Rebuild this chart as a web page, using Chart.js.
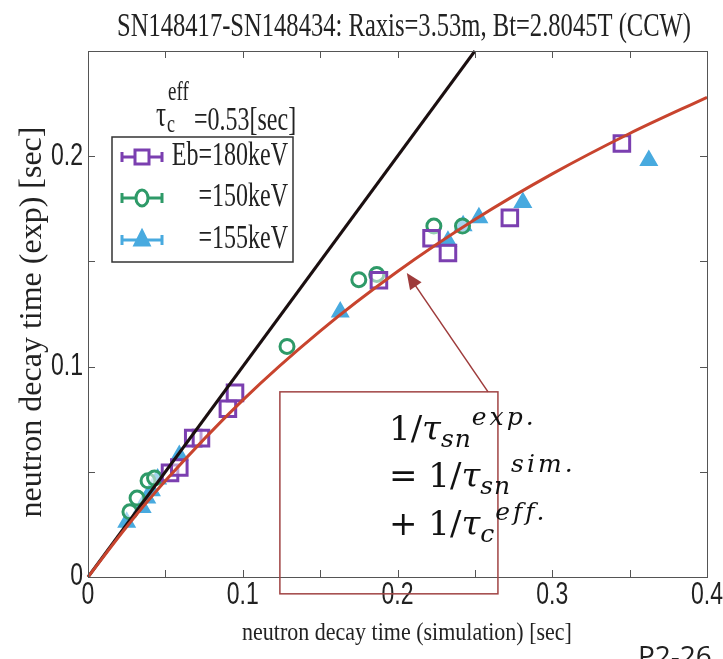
<!DOCTYPE html>
<html>
<head>
<meta charset="utf-8">
<script src="https://cdn.jsdelivr.net/npm/chart.js@4/dist/chart.umd.min.js"></script>
<style>
  html, body { margin: 0; padding: 0; background: #fff; }
</style>
</head>
<body>
<canvas id="grafico" width="723" height="659"></canvas>
<script>
// Valores (segundos)
const roxoX = [0.053, 0.059, 0.068, 0.073, 0.0904, 0.095, 0.188, 0.222, 0.2326, 0.2726, 0.345];
const roxoY = [0.0495, 0.052, 0.066, 0.066, 0.080, 0.0875, 0.141, 0.161, 0.154, 0.1707, 0.206];

const verdeX = [0.0271, 0.0317, 0.0388, 0.043, 0.1286, 0.175, 0.1866, 0.2235, 0.242];
const verdeY = [0.031, 0.0375, 0.0457, 0.047, 0.1096, 0.1413, 0.1438, 0.1668, 0.1668];

const azulX = [0.025, 0.035, 0.038, 0.041, 0.045, 0.059, 0.163, 0.2326, 0.2424, 0.2526, 0.281, 0.3624];
const azulY = [0.026, 0.033, 0.0375, 0.041, 0.0466, 0.0577, 0.126, 0.1596, 0.167, 0.1707, 0.178, 0.198];

// curva vermelha (tau_c eff = 0.53 s) e reta y = x
const curvaX = [0, 0.025, 0.05, 0.1, 0.15, 0.2, 0.25, 0.3, 0.35, 0.4];
const curvaY = [0, 0.0239, 0.0457, 0.0841, 0.1169, 0.1452, 0.1699, 0.1916, 0.2108, 0.228];
const retaX = [0, 0.25];
const retaY = [0, 0.25];

// marcas dos eixos
const marcasX = [0, 0.05, 0.1, 0.15, 0.2, 0.25, 0.3, 0.35, 0.4];
const rotulosX = ['0', '', '0.1', '', '0.2', '', '0.3', '', '0.4'];
const marcasY = [0, 0.05, 0.1, 0.15, 0.2, 0.25];
const rotulosY = ['0', '', '0.1', '', '0.2', ''];

const nomesSeries = ['Eb=180keV', '=150keV', '=155keV'];
const titulo = 'SN148417-SN148434: Raxis=3.53m, Bt=2.8045T (CCW)';

const ROXO = '#7b3fb0';
const VERDE = '#2e9a68';
const AZUL = '#48aadf';
const VERMELHO = '#c8442e';
const SERIF = '"Liberation Serif", "Times New Roman", serif';
const SANS = '"Liberation Sans", Arial, sans-serif';

function pares(xs, ys) {
  return xs.map((x, i) => ({ x, y: ys[i] }));
}

// Escreve texto com escala (o original está esticado na vertical)
function texto(ctx, s, x, y, o) {
  ctx.save();
  ctx.translate(x, y);
  if (o.rot) ctx.rotate(o.rot);
  ctx.scale(o.sx || 1, o.sy || 1);
  ctx.font = o.font;
  ctx.fillStyle = o.cor || '#222';
  ctx.textAlign = o.align || 'left';
  ctx.textBaseline = o.base || 'alphabetic';
  if (o.ls) ctx.letterSpacing = o.ls;
  if (o.max) ctx.fillText(s, 0, 0, o.max);
  else ctx.fillText(s, 0, 0);
  ctx.restore();
}

// Escreve uma sequência de pedaços (sub/sobrescritos) e avança em x
function trechos(ctx, lista, x, y) {
  lista.forEach(t => {
    texto(ctx, t.s, x, y + (t.dy || 0), { font: t.font, cor: '#111', ls: t.ls });
    ctx.save();
    ctx.font = t.font;
    if (t.ls) ctx.letterSpacing = t.ls;
    x += ctx.measureText(t.s).width;
    ctx.restore();
  });
}

function marcador(ctx, tipo, cor, x, y) {
  ctx.save();
  ctx.strokeStyle = cor;
  ctx.fillStyle = cor;
  ctx.lineWidth = 3;
  // barra de erro horizontal com pontas
  ctx.beginPath();
  ctx.moveTo(x - 20, y); ctx.lineTo(x + 20, y);
  ctx.moveTo(x - 20, y - 5); ctx.lineTo(x - 20, y + 5);
  ctx.moveTo(x + 20, y - 5); ctx.lineTo(x + 20, y + 5);
  ctx.stroke();
  ctx.beginPath();
  if (tipo === 'rect') {
    ctx.fillStyle = '#fff';
    ctx.rect(x - 7, y - 7, 14, 14);
    ctx.fill(); ctx.stroke();
  } else if (tipo === 'circle') {
    ctx.fillStyle = '#fff';
    ctx.ellipse(x, y, 6, 8, 0, 0, Math.PI * 2);
    ctx.fill(); ctx.stroke();
  } else {
    ctx.moveTo(x, y - 9); ctx.lineTo(x + 7, y + 5); ctx.lineTo(x - 7, y + 5); ctx.closePath();
    ctx.fill(); ctx.stroke();
  }
  ctx.restore();
}

const decoracao = {
  id: 'decoracao',
  afterDraw(chart) {
    const ctx = chart.ctx;
    const sx = chart.scales.x;
    const sy = chart.scales.y;
    const a = chart.chartArea;

    // moldura e marcas internas
    ctx.save();
    ctx.strokeStyle = '#555';
    ctx.lineWidth = 1;
    ctx.strokeRect(a.left + 0.5, a.top + 0.5, a.right - a.left, a.bottom - a.top);
    ctx.beginPath();
    marcasX.forEach(v => {
      const px = Math.round(sx.getPixelForValue(v)) + 0.5;
      ctx.moveTo(px, a.bottom); ctx.lineTo(px, a.bottom - 7);
      ctx.moveTo(px, a.top); ctx.lineTo(px, a.top + 7);
    });
    marcasY.forEach(v => {
      const py = Math.round(sy.getPixelForValue(v)) + 0.5;
      ctx.moveTo(a.left, py); ctx.lineTo(a.left + 7, py);
      ctx.moveTo(a.right, py); ctx.lineTo(a.right - 7, py);
    });
    ctx.stroke();
    ctx.restore();

    // rótulos das marcas
    marcasX.forEach((v, i) => {
      if (!rotulosX[i]) return;
      texto(ctx, rotulosX[i], sx.getPixelForValue(v), a.bottom + 19,
        { font: '23px ' + SANS, sy: 1.33, align: 'center', base: 'middle' });
    });
    marcasY.forEach((v, i) => {
      if (!rotulosY[i]) return;
      texto(ctx, rotulosY[i], a.left - 5, sy.getPixelForValue(v),
        { font: '23px ' + SANS, sy: 1.33, align: 'right', base: 'middle' });
    });

    // títulos
    texto(ctx, titulo, 404, 36, { font: '25px ' + SERIF, sy: 1.34, align: 'center', max: 574 });
    texto(ctx, 'neutron decay time (simulation) [sec]', 407, 640,
      { font: '22px ' + SERIF, sy: 1.1, align: 'center', max: 340 });
    texto(ctx, 'neutron decay time (exp) [sec]', 41, 322,
      { font: '32px ' + SERIF, rot: -Math.PI / 2, align: 'center', max: 455 });

    // tau_c^eff acima da legenda
    texto(ctx, 'τ', 156, 126, { font: '25px ' + SERIF, sy: 1.4 });
    texto(ctx, 'c', 167, 132, { font: '18px ' + SERIF, sy: 1.4 });
    texto(ctx, 'eff', 168, 100, { font: '19px ' + SERIF, sy: 1.4 });
    texto(ctx, '=0.53[sec]', 194, 130, { font: '24px ' + SERIF, sy: 1.4 });

    // legenda
    ctx.save();
    ctx.strokeStyle = '#333';
    ctx.lineWidth = 1.5;
    ctx.strokeRect(112, 137, 181, 125);
    ctx.restore();
    const tipos = ['rect', 'circle', 'triangle'];
    const cores = [ROXO, VERDE, AZUL];
    const linhas = [157, 198, 240];
    nomesSeries.forEach((n, i) => {
      marcador(ctx, tipos[i], cores[i], 142, linhas[i]);
      texto(ctx, n, 288, linhas[i] + 8, { font: '24px ' + SERIF, sy: 1.4, align: 'right' });
    });

    // caixa da fórmula e seta
    const bx0 = sx.getPixelForValue(0.124), bx1 = sx.getPixelForValue(0.2649);
    const by0 = sy.getPixelForValue(0.088), by1 = sy.getPixelForValue(-0.008);
    ctx.save();
    ctx.strokeStyle = '#a04444';
    ctx.lineWidth = 1.5;
    ctx.strokeRect(bx0, by0, bx1 - bx0, by1 - by0);
    const cx = sx.getPixelForValue(0.2585), cy = by0;
    const px = sx.getPixelForValue(0.206), py = sy.getPixelForValue(0.1445);
    const ang = Math.atan2(py - cy, px - cx);
    ctx.strokeStyle = '#9e3b3b';
    ctx.fillStyle = '#9e3b3b';
    ctx.beginPath();
    ctx.moveTo(cx, cy);
    ctx.lineTo(px - 12 * Math.cos(ang), py - 12 * Math.sin(ang));
    ctx.stroke();
    ctx.beginPath();
    ctx.moveTo(px, py);
    ctx.lineTo(px - 16 * Math.cos(ang) + 7 * Math.sin(ang), py - 16 * Math.sin(ang) - 7 * Math.cos(ang));
    ctx.lineTo(px - 16 * Math.cos(ang) - 7 * Math.sin(ang), py - 16 * Math.sin(ang) + 7 * Math.cos(ang));
    ctx.closePath();
    ctx.fill();
    ctx.restore();

    const F = '34px "DejaVu Serif", serif';
    const FI = 'italic 34px "DejaVu Serif", serif';
    const FP = 'italic 25px "DejaVu Serif", serif';
    trechos(ctx, [
      { s: '1/', font: F }, { s: 'τ', font: FI },
      { s: 'sn', font: FP, dy: 7, ls: '1px' }, { s: 'exp.', font: FP, dy: -15, ls: '3px' }
    ], 389, 440);
    trechos(ctx, [
      { s: '= 1/', font: F }, { s: 'τ', font: FI },
      { s: 'sn', font: FP, dy: 7, ls: '1px' }, { s: 'sim.', font: FP, dy: -15, ls: '3px' }
    ], 389, 487);
    trechos(ctx, [
      { s: '+ 1/', font: F }, { s: 'τ', font: FI },
      { s: 'c', font: FP, dy: 7, ls: '1px' }, { s: 'eff.', font: FP, dy: -15, ls: '3px' }
    ], 389, 535);

    // rótulo cortado no canto
    texto(ctx, 'P2-26', 638, 666, { font: '28px "Open Sans", sans-serif', cor: '#222' });
  }
};

const grafico = new Chart(document.getElementById('grafico'), {
  type: 'scatter',
  data: {
    datasets: [
      {
        type: 'line', label: 'curva', data: pares(curvaX, curvaY),
        borderColor: VERMELHO, borderWidth: 3, pointRadius: 0,
        tension: 0.4, cubicInterpolationMode: 'monotone', fill: false, order: 0
      },
      {
        type: 'line', label: 'reta', data: pares(retaX, retaY),
        borderColor: '#1b0f10', borderWidth: 3, pointRadius: 0, fill: false, order: 0
      },
      {
        label: nomesSeries[0], data: pares(roxoX, roxoY),
        pointStyle: 'rect', pointRadius: 11, borderWidth: 3,
        borderColor: ROXO, backgroundColor: 'rgba(255,255,255,0.5)', order: 1
      },
      {
        label: nomesSeries[1], data: pares(verdeX, verdeY),
        pointStyle: 'circle', pointRadius: 7, borderWidth: 3,
        borderColor: VERDE, backgroundColor: 'rgba(255,255,255,0.5)', order: 1
      },
      {
        label: nomesSeries[2], data: pares(azulX, azulY),
        pointStyle: 'triangle', pointRadius: 8, borderWidth: 3,
        borderColor: AZUL, backgroundColor: AZUL, order: 1
      }
    ]
  },
  options: {
    responsive: false,
    animation: false,
    clip: false,
    layout: { padding: { left: 88, right: 16, top: 51, bottom: 82 } },
    plugins: {
      legend: { display: false },
      title: { display: false },
      tooltip: { enabled: false }
    },
    scales: {
      x: { type: 'linear', min: 0, max: 0.4, display: false },
      y: { type: 'linear', min: 0, max: 0.25, display: false }
    }
  },
  plugins: [decoracao]
});
</script>
</body>
</html>
